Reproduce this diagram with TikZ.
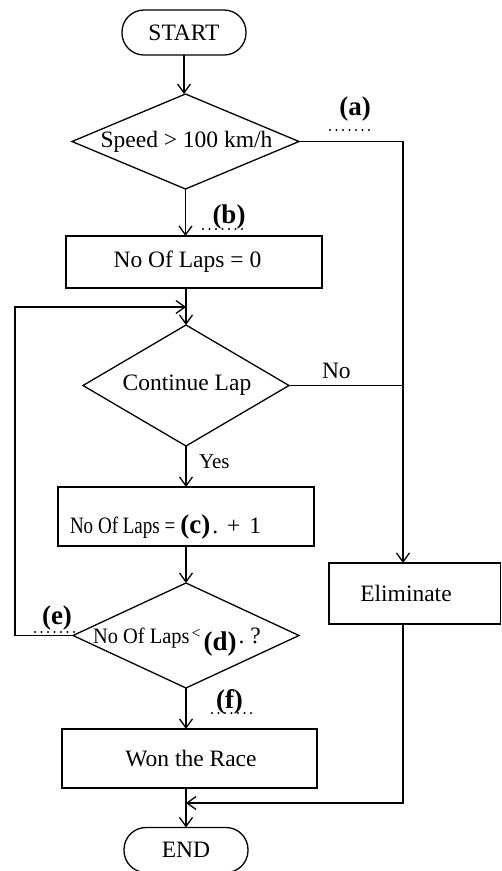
\documentclass[tikz,border=0pt]{standalone}
\usepackage{fontspec}
\setmainfont{Liberation Serif}
\usetikzlibrary{shapes.geometric,arrows.meta,calc}
\begin{document}
\begin{tikzpicture}[x=1pt,y=-1pt,
 every node/.style={font=\fontsize{23.5}{28}\selectfont, inner sep=0pt, outer sep=0pt},
 conn/.style={line width=1.3pt},
 arr/.style={conn,-{Straight Barb[length=9pt,width=13pt]}},
 term/.style={draw,line width=1.3pt,rectangle,rounded corners=22pt,minimum width=124pt,minimum height=45pt},
 proc/.style={draw,line width=1.3pt,rectangle},
 dec/.style={draw,line width=1.3pt,diamond},
 tag/.style={font=\bfseries\fontsize{27}{32}\selectfont},
 dotline/.style={line width=2.4pt,dash pattern=on 0pt off 6.5pt,line cap=round}
]
\useasboundingbox[fill=white] (0,0) rectangle (502,871);

% shapes
\node[term] (start) at (184,32.5) {START};
\node[dec,minimum width=227pt,minimum height=95pt] (d1) at (185.5,141.5) {\makebox[0pt]{\kern2pt Speed > 100 km/h}};
\node[proc,minimum width=256pt,minimum height=52pt] (b1) at (194,262) {\makebox[0pt]{\kern-13pt No Of Laps = 0}};
\node[dec,minimum width=206pt,minimum height=121pt] (d2) at (186,385.5) {\makebox[0pt]{\kern2pt Continue Lap}};
\node[proc,minimum width=256pt,minimum height=59pt] (b3) at (186,516.5) {};
\node[anchor=base west] (b3t) at (70,533) {\scalebox{0.81}[1]{No Of Laps =}\kern5pt{\bfseries\fontsize{27}{32}\selectfont(c)}\kern2pt.\kern9pt+\kern9pt1};
\node[dec,minimum width=226pt,minimum height=105pt] (d3) at (186,635.5) {};
\node[anchor=base west] (d3t) at (93,643) {\scalebox{0.93}[1]{\fontsize{22}{26}\selectfont No Of Laps}\kern2pt\raisebox{5pt}{\fontsize{16}{18}\selectfont <}\kern3pt\raisebox{-7pt}{\bfseries\fontsize{27}{32}\selectfont(d)}\kern2pt.\kern6pt?};
\node[proc,minimum width=171.5pt,minimum height=61pt] (el) at (414.75,593.5) {\makebox[0pt]{\kern-17.5pt Eliminate}};
\node[proc,minimum width=255pt,minimum height=59pt] (b4) at (189.5,758.5) {\makebox[0pt]{\kern3pt Won the Race}};
\node[term] (en) at (186,850) {END};

% blanks
\node[tag] (ta) at (355,109) {(a)};
\draw[dotline] (330,130) -- (373,130);
\node[tag] (tb) at (229,217) {(b)};
\draw[dotline] (203,229) -- (245,229);
\node[tag] (te) at (57,618) {(e)};
\draw[dotline] (35,632) -- (75,632);
\node[tag] (tf) at (229.5,702) {(f)};
\draw[dotline] (212,713) -- (255,713);

% branch labels
\node[anchor=base west] (lno) at (322,378) {No};
\node[anchor=base west,font=\fontsize{21}{25}\selectfont] (lyes) at (199,468) {Yes};

% helper coordinates
\coordinate (r1) at (403,0);
\coordinate (lp) at (15,307);
\coordinate (jn) at (0,803);

% connectors
\draw[arr] (start) -- (start |- d1.north);
\draw[arr] (d1.south) -- (d1.south |- b1.north);
\draw[arr] (b1.south -| d2.north) -- (d2.north);
\draw[arr] (d2.south) -- (d2.south |- b3.north);
\draw[arr] (b3.south -| d3.north) -- (d3.north);
\draw[arr] (d3.south) -- (d3.south |- b4.north);
\draw[arr] (b4.south -| en.north) -- (en.north);
\draw[arr] (d1.east) -- (d1.east -| r1) -- (r1 |- el.north);
\draw[conn] (d2.east) -- (d2.east -| r1);
\draw[arr] (d3.west) -- (d3.west -| lp) -- (lp) -- (lp -| d2.north);
\draw[arr] (el.south -| r1) -- (r1 |- jn) -- (jn -| en.north);
\end{tikzpicture}
\end{document}
